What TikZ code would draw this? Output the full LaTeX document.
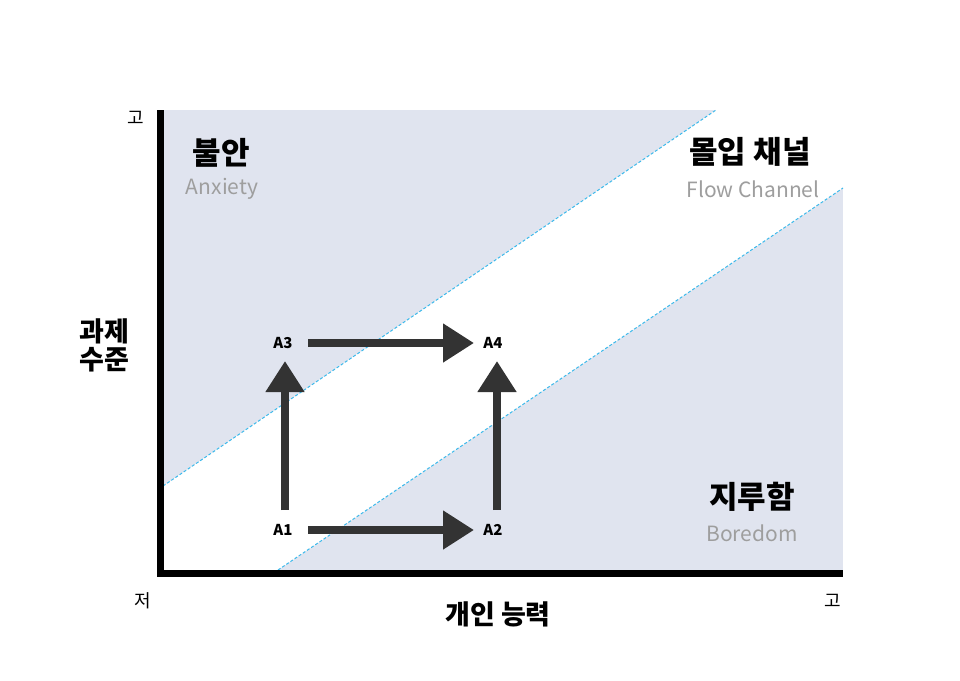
\documentclass[tikz,border=0pt]{standalone}
\usepackage{fontspec}
\setmainfont{Noto Sans CJK KR}
\usepackage{xcolor}
\usetikzlibrary{arrows.meta}
\definecolor{zone}{RGB}{224,228,239}
\definecolor{edge}{RGB}{60,185,235}
\definecolor{ink}{RGB}{51,51,51}
\definecolor{subgray}{RGB}{158,158,158}

\begin{document}
\begin{tikzpicture}[x=1pt, y=-1pt,
  big/.style = {font=\fontsize{31}{36}\selectfont\bfseries},
  eng/.style = {font=\fontsize{21}{24}\selectfont, text=subgray},
  axname/.style = {font=\fontsize{27}{28}\selectfont\bfseries, align=center},
  ends/.style = {font=\fontsize{18}{20}\selectfont},
  pt/.style = {font=\fontsize{15}{16}\selectfont\bfseries, inner sep=0pt},
  flow/.style = {draw=ink, line width=8pt, -{Triangle[length=31pt,width=37pt]}},
  bound/.style = {draw=edge, line width=1pt, dash pattern=on 3pt off 2pt}]
\useasboundingbox (0,0) rectangle (960,680);
% zones
\fill[zone] (163,110) rectangle (843,570);
\fill[white] (163,486) -- (716,110) -- (843,110) -- (843,188) -- (278,570) -- (163,570) -- cycle;
\draw[bound] (163,486) -- (716,110);
\draw[bound] (278,570) -- (843,188);
% axes
\draw[line width=7pt] (160,110) -- (160,573) -- (843,573);
\node[ends] (hiy) at (136,118) {고};
\node[ends] (lo) at (143,601) {저};
\node[ends] (hix) at (833,601) {고};
\node[axname] (task) at (104,345) {과제\\수준};
\node[axname] (skill) at (498,614) {개인 능력};
% zone names
\node[big] (anx) at (221,153) {불안};
\node[eng] (anxen) at (222,189) {Anxiety};
\node[big] (flw) at (750,152) {몰입 채널};
\node[eng] (flwen) at (753,189) {Flow Channel};
\node[big] (bor) at (752,497) {지루함};
\node[eng] (boren) at (752,533) {Boredom};
% points
\node[pt] (A1) at (283,530) {A1};
\node[pt] (A2) at (493,530) {A2};
\node[pt] (A3) at (283,343) {A3};
\node[pt] (A4) at (493,343) {A4};
\draw[flow, shorten <=25pt, shorten >=19pt] (A1.center) -- (A2.center);
\draw[flow, shorten <=25pt, shorten >=19pt] (A3.center) -- (A4.center);
\draw[flow, shorten <=20pt, shorten >=18pt] ([xshift=2pt]A1.center) -- ([xshift=2pt]A3.center);
\draw[flow, shorten <=20pt, shorten >=18pt] ([xshift=4pt]A2.center) -- ([xshift=4pt]A4.center);
\end{tikzpicture}
\end{document}
